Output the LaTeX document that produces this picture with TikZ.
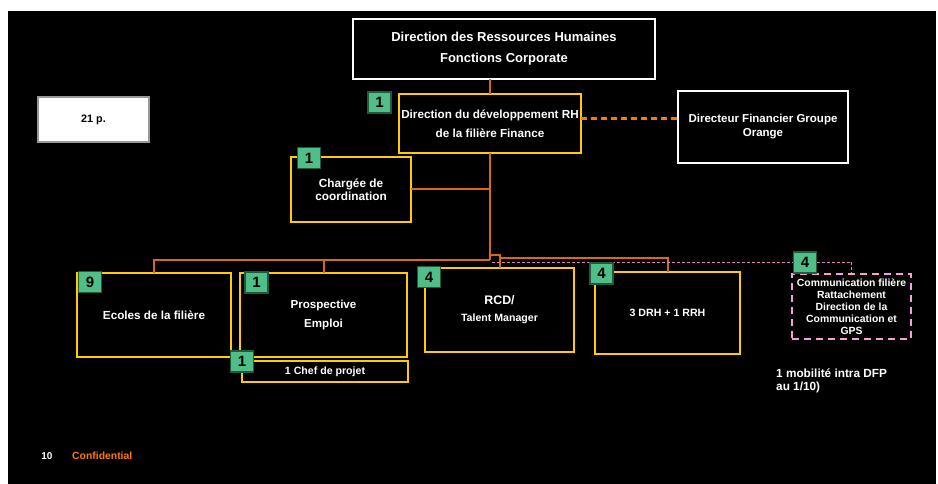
\documentclass[tikz,border=0pt]{standalone}
\usepackage{fontspec}
\setmainfont{Liberation Sans}
\usetikzlibrary{positioning}

\definecolor{linkorange}{RGB}{214,108,18}
\definecolor{brightorange}{RGB}{255,121,0}
\definecolor{boxyellow}{RGB}{255,204,0}
\definecolor{badgegreen}{RGB}{80,190,135}
\definecolor{badgeedge}{RGB}{30,90,60}
\definecolor{linkpink}{RGB}{245,160,215}

\begin{document}
\begin{tikzpicture}[x=1pt, y=-1pt]
  \tikzstyle{whitebox}=[rectangle, draw = white, line width = 2pt, text = white, align = center, outer sep = 0pt, inner sep = 1pt]
  \tikzstyle{unit}=[rectangle, draw = boxyellow, line width = 2.2pt, text = white, align = center, outer sep = 0pt, inner sep = 1pt]
  \tikzstyle{badge}=[rectangle, fill = badgegreen, draw = badgeedge, line width = 1.5pt, minimum width = 23pt, minimum height = 21pt, inner sep = 0pt, font = \bfseries\fontsize{15}{15}\selectfont]
  \tikzstyle{link}=[linkorange, line width = 2pt]
  \tikzstyle{dashlink}=[brightorange, line width = 2.2pt, dash pattern = on 6pt off 4pt]
  \tikzstyle{pinklink}=[linkpink!80!violet, line width = 0.7pt, dash pattern = on 3pt off 2pt]

  % background of the slide
  \fill[white] (0,0) rectangle (938,484);
  \fill[black] (8,11) rectangle (936,484);
  \useasboundingbox (0,0) rectangle (938,484);

  % top level
  \node[whitebox, minimum width = 302, minimum height = 60, font = \bfseries\fontsize{13}{21}\selectfont] (drh) at (504,49) {Direction des Ressources Humaines\\Fonctions Corporate};
  \node[unit, minimum width = 182, minimum height = 59, font = \bfseries\fontsize{11.7}{19}\selectfont] (dev) at (490,123.5) {Direction du d\'eveloppement RH\\de la fili\`ere Finance};
  \node[whitebox, minimum width = 170, minimum height = 72, font = \bfseries\fontsize{11.5}{14}\selectfont] (dfg) at (763,127) {Directeur Financier Groupe\\Orange};
  \node[rectangle, fill = white, draw = gray!80, line width = 2pt, minimum width = 111, minimum height = 45, font = \bfseries\fontsize{10.8}{11}\selectfont] (total) at (93.5,119.5) {21 p.};
  \node[unit, minimum width = 120, minimum height = 65, font = \bfseries\fontsize{11.8}{13.5}\selectfont] (coord) at (351,189.5) {Charg\'ee de\\coordination};

  % teams
  \node[unit, minimum width = 154, minimum height = 84, font = \bfseries\fontsize{11.7}{13}\selectfont] (ecoles) at (154,315) {Ecoles de la fili\`ere};
  \node[unit, minimum width = 167, minimum height = 84, font = \bfseries\fontsize{11.6}{18}\selectfont] (prosp) at (323.5,315) {Prospective\\Emploi};
  \node[unit, minimum width = 166, minimum height = 21, font = \bfseries\fontsize{10.6}{10}\selectfont] (chef) at (325,371.5) {1 Chef de projet};
  \node[unit, minimum width = 149, minimum height = 84, font = \bfseries\fontsize{10.6}{17}\selectfont] (rcd) at (499.5,310) {{\fontsize{12.4}{17}\selectfont RCD/}\\Talent Manager};
  \node[unit, minimum width = 145, minimum height = 82, font = \bfseries\fontsize{10.6}{12}\selectfont] (drh3) at (667.5,313) {3 DRH + 1 RRH};
  \node[rectangle, draw = linkpink, line width = 2pt, dash pattern = on 7pt off 5pt, text = white, align = center, minimum width = 119, minimum height = 65, inner sep = 0pt, font = \bfseries\fontsize{10.4}{12}\selectfont] (comm) at (851.5,306.5) {Communication fili\`ere\\Rattachement\\Direction de la\\Communication et\\GPS};
  \node[text = white, align = left, anchor = west, inner sep = 0pt, font = \bfseries\fontsize{11.8}{13}\selectfont] (mob) at (776,380.5) {1 mobilit\'e intra DFP\\au 1/10)};

  % footer
  \node[text = white, font = \bfseries\fontsize{10}{10}\selectfont] (page) at (47,456) {10};
  \node[text = brightorange, anchor = west, inner sep = 0pt, font = \bfseries\fontsize{10.4}{10}\selectfont] (conf) at (72,456) {Confidential};

  % connectors
  \coordinate (hub) at (490,260);
  \coordinate (jog) at (499.5,255);
  \coordinate (bus) at (499.5,258);
  \coordinate (relay) at (492,262);

  \draw[link] (dev.north) -- (dev.north |- drh.south);
  \draw[dashlink] ([yshift=5pt]dev.east) -- ([yshift=5pt]dev.east -| dfg.west);
  \draw[link] (dev.south) -- (hub);
  \draw[link] (coord.east) -- (coord.east -| hub);
  \draw[link] (ecoles.north) |- (hub);
  \draw[link] (prosp.north) -- (prosp.north |- hub);
  \draw[link] (hub) -- (hub |- jog) -- (jog) -- (rcd.north);
  \draw[link] (bus) -| (drh3.north);
  \draw[pinklink] (relay) -| (comm.north);

  % head counts
  \node[badge] (n1) at (379.5,102.5) {1};
  \node[badge] (n2) at (309,158) {1};
  \node[badge] (n3) at (90,282) {9};
  \node[badge] (n4) at (256.5,282.5) {1};
  \node[badge] (n5) at (242,361.5) {1};
  \node[badge] (n6) at (429,277) {4};
  \node[badge] (n7) at (601.5,273.5) {4};
  \node[badge] (n8) at (805,262.5) {4};
\end{tikzpicture}
\end{document}
